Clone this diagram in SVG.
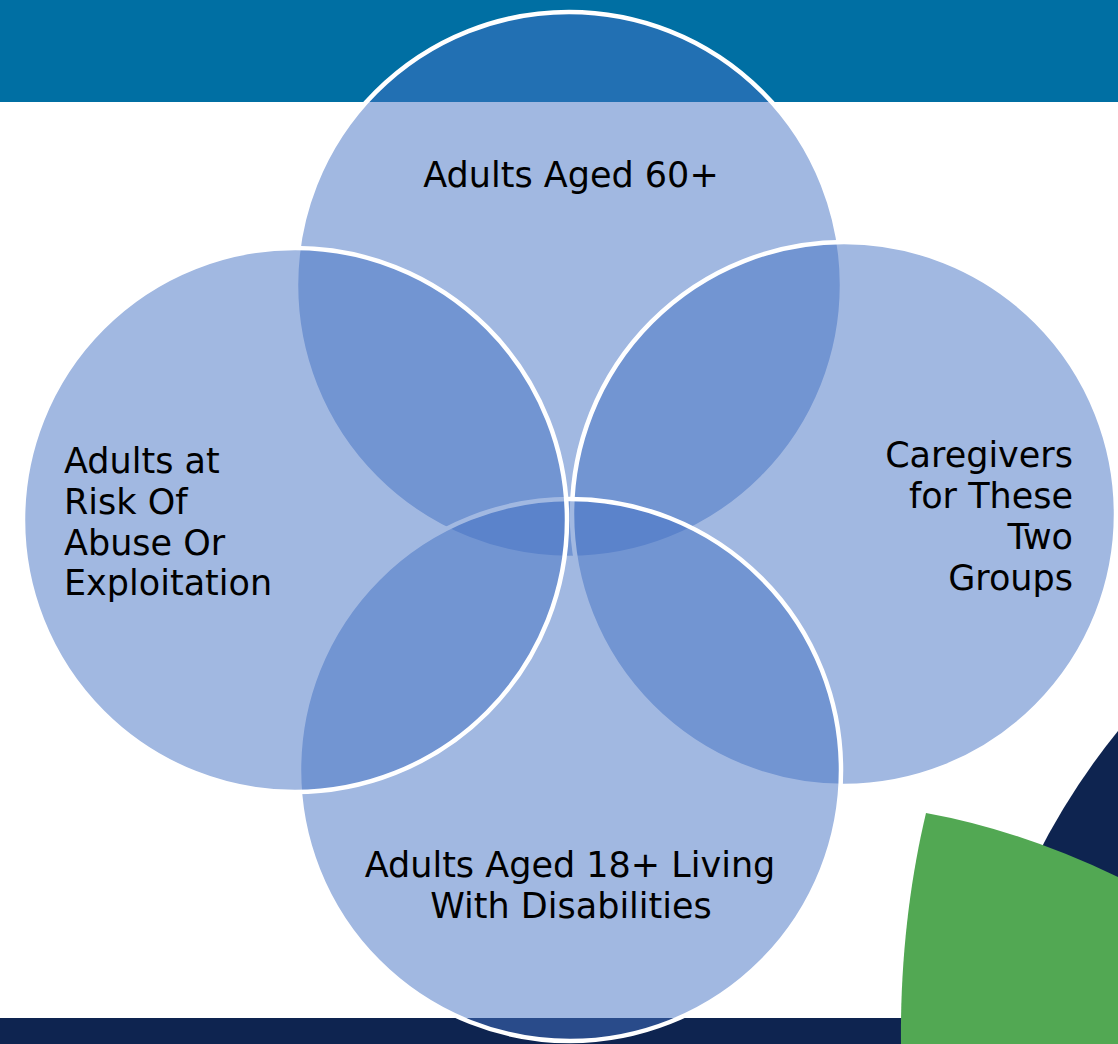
<svg xmlns="http://www.w3.org/2000/svg" width="1118" height="1044" viewBox="0 0 1118 1044">
  <style>
    .venn { fill: #4472C4; fill-opacity: 0.5; stroke: #FFFFFF; stroke-width: 4.5; }
    .lbl { font-family: "DejaVu Sans", "Liberation Sans", sans-serif; font-size: 35px; fill: #000000; }
  </style>
  <rect width="1118" height="1044" fill="#FFFFFF"/>
  <g id="background">
    <rect x="0" y="0" width="1118" height="102" fill="#006FA3"/>
    <rect x="0" y="1018" width="1118" height="26" fill="#0E2450"/>
    <path d="M1118,731 Q1070,790 1035,860 L1000,1044 L1118,1044 Z" fill="#0E2450"/>
    <path d="M926,813 Q1020,830 1118,877 L1118,1044 L901,1044 C900,960 910,880 926,813 Z" fill="#52A853"/>
  </g>
  <g id="node-top">
    <circle class="venn" cx="569" cy="285" r="273"/>
  </g>
  <g id="node-right">
    <circle class="venn" cx="844" cy="514" r="272"/>
  </g>
  <g id="node-bottom">
    <circle class="venn" cx="570" cy="770" r="271"/>
  </g>
  <g id="node-left">
    <circle class="venn" cx="295" cy="520" r="272"/>
  </g>
  <g id="labels">
    <text class="lbl" x="571" y="187" text-anchor="middle">Adults Aged 60+</text>
    <text class="lbl" x="64" y="473">Adults at</text>
    <text class="lbl" x="64" y="514">Risk Of</text>
    <text class="lbl" x="64" y="555">Abuse Or</text>
    <text class="lbl" x="64" y="595">Exploitation</text>
    <text class="lbl" x="1073" y="467" text-anchor="end">Caregivers</text>
    <text class="lbl" x="1073" y="508" text-anchor="end">for These</text>
    <text class="lbl" x="1073" y="549" text-anchor="end">Two</text>
    <text class="lbl" x="1073" y="590" text-anchor="end">Groups</text>
    <text class="lbl" x="570" y="877" text-anchor="middle">Adults Aged 18+ Living</text>
    <text class="lbl" x="571" y="918" text-anchor="middle">With Disabilities</text>
  </g>
</svg>
